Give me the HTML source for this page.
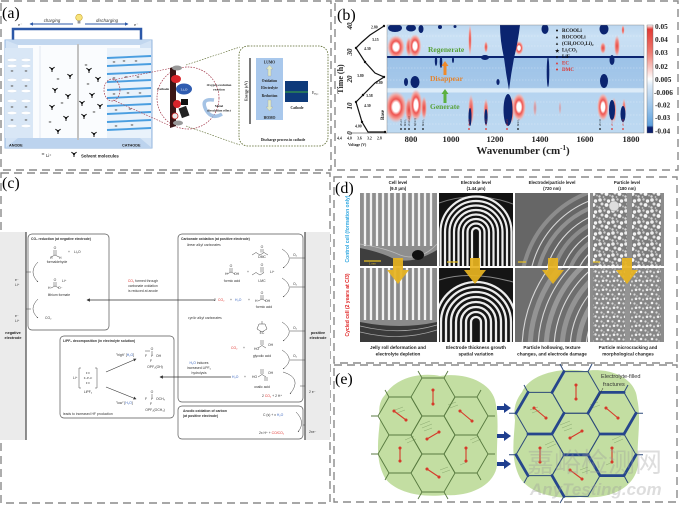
<!DOCTYPE html>
<html><head><meta charset="utf-8">
<style>
html,body{margin:0;padding:0;background:#fff;width:680px;height:505px;overflow:hidden;}
svg{display:block;}
</style></head><body>
<svg width="680" height="505" viewBox="0 0 680 505" xmlns="http://www.w3.org/2000/svg" font-family="Liberation Sans, sans-serif">
<defs>
<marker id="ah" viewBox="0 0 6 6" refX="5" refY="3" markerWidth="5" markerHeight="5" orient="auto"><path d="M0,0 L6,3 L0,6 Z" fill="#333"/></marker>
<marker id="ahs" viewBox="0 0 6 6" refX="5" refY="3" markerWidth="3" markerHeight="3" orient="auto"><path d="M0,0 L6,3 L0,6 Z" fill="#444"/></marker>
<marker id="ahb" viewBox="0 0 6 6" refX="5" refY="3" markerWidth="4" markerHeight="4" orient="auto"><path d="M0,0 L6,3 L0,6 Z" fill="#2c58a8"/></marker>
<radialGradient id="rw"><stop offset="0" stop-color="#fff"/><stop offset="0.3" stop-color="#fff"/><stop offset="0.5" stop-color="#ef5450"/><stop offset="0.75" stop-color="#f3a09a"/><stop offset="1" stop-color="#f5c0bc" stop-opacity="0"/></radialGradient>
<radialGradient id="rr"><stop offset="0" stop-color="#e6433e"/><stop offset="0.6" stop-color="#f0908a"/><stop offset="1" stop-color="#f5c0bc" stop-opacity="0"/></radialGradient>
<linearGradient id="hmbg" x1="0" y1="0" x2="0" y2="1">
<stop offset="0" stop-color="#bcd7f0"/><stop offset="0.1" stop-color="#c9e0f4"/><stop offset="0.29" stop-color="#c3dbf2"/>
<stop offset="0.3" stop-color="#9cc2e8"/><stop offset="0.58" stop-color="#a7c9ea"/><stop offset="0.59" stop-color="#dcebf8"/>
<stop offset="0.62" stop-color="#dcebf8"/><stop offset="0.63" stop-color="#b6d4f0"/><stop offset="1" stop-color="#bdd9f1"/></linearGradient>
<linearGradient id="cb" x1="0" y1="0" x2="0" y2="1">
<stop offset="0" stop-color="#fff"/><stop offset="0.04" stop-color="#e23a34"/><stop offset="0.25" stop-color="#ee7a70"/>
<stop offset="0.42" stop-color="#fad4d0"/><stop offset="0.5" stop-color="#fff"/><stop offset="0.56" stop-color="#dbe9f7"/>
<stop offset="0.8" stop-color="#8dbde8"/><stop offset="0.93" stop-color="#5d9fdc"/><stop offset="0.95" stop-color="#0a1f6e"/><stop offset="1" stop-color="#0a1f6e"/></linearGradient>
<pattern id="spk" width="13" height="11" patternUnits="userSpaceOnUse">
<rect width="13" height="11" fill="#7c7c7c"/>
<circle cx="2" cy="2" r="1.8" fill="#ececec"/><circle cx="6.5" cy="1.5" r="1.2" fill="#cfcfcf"/><circle cx="10.5" cy="3" r="1.7" fill="#f2f2f2"/>
<circle cx="4" cy="6" r="1.5" fill="#e0e0e0"/><circle cx="8.5" cy="7" r="1.9" fill="#f5f5f5"/><circle cx="12" cy="8.5" r="1" fill="#bbb"/>
<circle cx="1.5" cy="9.5" r="1.2" fill="#d8d8d8"/><circle cx="5.5" cy="10" r="0.9" fill="#c8c8c8"/></pattern>
<pattern id="spk2" width="11" height="9" patternUnits="userSpaceOnUse">
<rect width="11" height="9" fill="#878787"/>
<circle cx="1.5" cy="1.5" r="1.2" fill="#e6e6e6"/><circle cx="5" cy="2.5" r="1.1" fill="#d2d2d2"/><circle cx="9" cy="1.8" r="1.3" fill="#eee"/>
<circle cx="3" cy="6" r="1.3" fill="#f0f0f0"/><circle cx="7.5" cy="6.5" r="1.1" fill="#dadada"/><circle cx="10" cy="8" r="0.8" fill="#c4c4c4"/></pattern>
<clipPath id="hm"><rect x="387" y="25" width="257" height="108"/></clipPath>
<clipPath id="d11"><rect x="360" y="193" width="77" height="73"/></clipPath>
<clipPath id="d12"><rect x="439" y="193" width="74" height="73"/></clipPath>
<clipPath id="d13"><rect x="515" y="193" width="73" height="73"/></clipPath>
<clipPath id="d21"><rect x="360" y="268" width="77" height="74"/></clipPath>
<clipPath id="d22"><rect x="439" y="268" width="74" height="74"/></clipPath>
<clipPath id="d23"><rect x="515" y="268" width="73" height="74"/></clipPath>
<g id="sm"><line x1="0" y1="0" x2="-2.6" y2="-1.8" stroke="#111" stroke-width="1"/><line x1="0" y1="0" x2="2.6" y2="-1.8" stroke="#111" stroke-width="1"/><line x1="0" y1="0" x2="0" y2="3" stroke="#111" stroke-width="1"/><circle r="1.1" fill="#111"/></g>
<g id="li"><ellipse rx="1.4" ry="0.7" fill="#777"/></g>
</defs>
<rect width="680" height="505" fill="#fff"/>

<!-- ============ PANEL BORDERS ============ -->
<g fill="none" stroke="#8a8a8a" stroke-width="1.4" stroke-dasharray="8 5">
<rect x="1" y="1" width="330" height="169"/>
<rect x="335" y="1" width="343" height="169"/>
<rect x="1" y="173" width="329" height="330"/>
<rect x="334" y="177" width="343" height="186"/>
<rect x="334" y="365" width="343" height="137"/>
</g>

<!-- ============ PANEL A ============ -->
<text x="2" y="18" font-family="Liberation Serif, serif" font-size="16">(a)</text>
<path d="M13,46 V29 H141 V46" fill="none" stroke="#2c58a8" stroke-width="2.5"/>
<line x1="73" y1="24" x2="30" y2="24" stroke="#2c58a8" stroke-width="0.9" marker-end="url(#ahb)"/>
<line x1="85" y1="24" x2="128" y2="24" stroke="#2c58a8" stroke-width="0.9" marker-end="url(#ahb)"/>
<text x="52" y="22" font-size="4.3" font-style="italic" text-anchor="middle" fill="#333">charging</text>
<text x="107" y="22" font-size="4.3" font-style="italic" text-anchor="middle" fill="#333">discharging</text>
<text x="18" y="26" font-size="4" fill="#333">e⁻</text>
<text x="134" y="26" font-size="4" fill="#333">e⁻</text>
<circle cx="79" cy="17.5" r="3.3" fill="#f8e47c" stroke="#caa530" stroke-width="0.6"/>
<rect x="77.6" y="20.5" width="2.8" height="3" fill="#999"/>
<!-- box -->
<rect x="5" y="40" width="147" height="108" fill="#d3e3f5" stroke="#93b5de" stroke-width="1"/>
<polygon points="18,45 140,45 140,138 18,138" fill="#fafcfe"/>
<polygon points="5,148 152,148 140,138 18,138" fill="#bcd3ee"/>
<polygon points="5,40 152,40 140,45 18,45" fill="#c2d7ef"/>
<!-- anode -->
<rect x="5" y="48" width="28" height="90" fill="#d9e7f6"/>
<g fill="#fff" stroke="#c3d3e7" stroke-width="0.3">
<ellipse cx="12" cy="60" rx="5" ry="1.6"/><ellipse cx="26" cy="60" rx="5" ry="1.6"/>
<ellipse cx="12" cy="66" rx="5" ry="1.6"/><ellipse cx="26" cy="66" rx="5" ry="1.6"/>
<ellipse cx="12" cy="80" rx="5" ry="1.6"/><ellipse cx="26" cy="80" rx="5" ry="1.6"/>
<ellipse cx="12" cy="91" rx="5" ry="1.6"/><ellipse cx="26" cy="91" rx="5" ry="1.6"/>
<ellipse cx="12" cy="101" rx="5" ry="1.6"/><ellipse cx="26" cy="101" rx="5" ry="1.6"/>
<ellipse cx="12" cy="113" rx="5" ry="1.6"/><ellipse cx="26" cy="113" rx="5" ry="1.6"/>
<ellipse cx="12" cy="126" rx="5" ry="1.6"/><ellipse cx="26" cy="126" rx="5" ry="1.6"/>
</g>
<g><use href="#li" x="12" y="71"/><use href="#li" x="26" y="71"/><use href="#li" x="12" y="86"/><use href="#li" x="26" y="86"/><use href="#li" x="12" y="107"/><use href="#li" x="26" y="107"/><use href="#li" x="12" y="120"/><use href="#li" x="26" y="120"/></g>
<line x1="40" y1="46" x2="40" y2="138" stroke="#e3e9f1" stroke-width="1"/>
<line x1="78" y1="44" x2="78" y2="140" stroke="#c2c2c2" stroke-width="2"/>
<!-- cathode -->
<rect x="107" y="48" width="44" height="90" fill="#e9f2fb"/>
<g stroke="#4a9ee0" stroke-width="1.9">
<line x1="107" y1="58" x2="151" y2="56"/><line x1="107" y1="66" x2="151" y2="64"/><line x1="107" y1="74" x2="151" y2="72"/>
<line x1="107" y1="82" x2="151" y2="80"/><line x1="107" y1="90" x2="151" y2="88"/><line x1="107" y1="98" x2="151" y2="96"/>
<line x1="107" y1="106" x2="151" y2="104"/><line x1="107" y1="114" x2="151" y2="112"/><line x1="107" y1="122" x2="151" y2="120"/>
<line x1="107" y1="130" x2="151" y2="128"/>
</g>
<g><use href="#li" x="114" y="62"/><use href="#li" x="124" y="61"/><use href="#li" x="136" y="61"/><use href="#li" x="114" y="78"/><use href="#li" x="126" y="77"/><use href="#li" x="138" y="77"/><use href="#li" x="114" y="94"/><use href="#li" x="128" y="93"/><use href="#li" x="140" y="93"/><use href="#li" x="116" y="110"/><use href="#li" x="130" y="109"/><use href="#li" x="116" y="126"/><use href="#li" x="132" y="125"/>
<use href="#li" x="58" y="79"/><use href="#li" x="88" y="84"/><use href="#li" x="62" y="103"/><use href="#li" x="94" y="112"/><use href="#li" x="86" y="65"/><use href="#li" x="50" y="122"/></g>
<g><use href="#sm" x="52" y="69"/><use href="#sm" x="70" y="76"/><use href="#sm" x="55" y="90"/><use href="#sm" x="68" y="96"/><use href="#sm" x="52" y="107"/><use href="#sm" x="66" y="118"/><use href="#sm" x="58" y="131"/><use href="#sm" x="89" y="70"/><use href="#sm" x="98" y="79"/><use href="#sm" x="92" y="95"/><use href="#sm" x="100" y="106"/><use href="#sm" x="84" y="116"/><use href="#sm" x="94" y="134"/><use href="#sm" x="82" y="103"/></g>
<text x="9" y="146.5" font-size="3.8" font-weight="bold" fill="#222">ANODE</text>
<text x="122" y="146.5" font-size="3.8" font-weight="bold" fill="#222">CATHODE</text>
<use href="#li" x="43" y="154"/>
<text x="46" y="157" font-size="4.2" fill="#222">Li⁺</text>
<use href="#sm" x="74" y="154"/>
<text x="81" y="157.5" font-size="4.3" font-weight="bold" fill="#222">Solvent molecules</text>
<!-- zoom circles -->
<ellipse cx="112" cy="90" rx="8" ry="11" fill="none" stroke="#a03345" stroke-width="0.7" stroke-dasharray="1.6 1.2"/>
<line x1="113" y1="80" x2="172" y2="68" stroke="#a03345" stroke-width="0.6" stroke-dasharray="1.6 1.2"/>
<line x1="113" y1="100" x2="173" y2="127" stroke="#a03345" stroke-width="0.6" stroke-dasharray="1.6 1.2"/>
<circle cx="188" cy="98" r="31" fill="#fff" stroke="#a03345" stroke-width="0.7" stroke-dasharray="1.6 1.2"/>
<line x1="186" y1="65" x2="240" y2="47" stroke="#5b6a2e" stroke-width="0.6" stroke-dasharray="1.6 1.2"/>
<line x1="186" y1="126" x2="240" y2="145" stroke="#5b6a2e" stroke-width="0.6" stroke-dasharray="1.6 1.2"/>
<polygon points="170,68 176,66 176,126 170,128" fill="#3a1616"/>
<ellipse cx="177" cy="68" rx="5" ry="2.5" fill="#999"/>
<ellipse cx="178" cy="123" rx="5" ry="2.5" fill="#999"/>
<ellipse cx="176" cy="79" rx="5" ry="4" fill="#d8242a"/>
<ellipse cx="184" cy="89" rx="8" ry="5.5" fill="#2f5cb0"/>
<text x="184" y="90.5" font-size="3.5" fill="#fff" text-anchor="middle" font-family="Liberation Serif, serif">Li₂O</text>
<ellipse cx="177" cy="104" rx="4" ry="4" fill="#d8242a"/>
<rect x="181" y="99" width="7" height="6" fill="#111"/>
<rect x="180" y="107" width="8" height="10" fill="#222" transform="rotate(-20 184 112)"/>
<ellipse cx="175" cy="116" rx="3" ry="3" fill="#e8e8e8" stroke="#c22" stroke-width="0.8"/>
<text x="157" y="90" font-size="3.3" font-weight="bold" font-family="Liberation Serif, serif" fill="#222">Cathode</text>
<path d="M214,100 Q200,98 206,110 Q212,120 222,114" fill="none" stroke="#8fb4de" stroke-width="3.5" opacity="0.8"/>
<text x="219" y="86" font-size="3.3" font-weight="bold" font-family="Liberation Serif, serif" fill="#222" text-anchor="middle">Oxygen evolution</text>
<text x="219" y="90.5" font-size="3.3" font-weight="bold" font-family="Liberation Serif, serif" fill="#222" text-anchor="middle">reaction</text>
<text x="219" y="107" font-size="3.3" font-weight="bold" font-family="Liberation Serif, serif" fill="#222" text-anchor="middle">Metal</text>
<text x="219" y="111.5" font-size="3.3" font-weight="bold" font-family="Liberation Serif, serif" fill="#222" text-anchor="middle">dissolution effect</text>
<!-- energy box -->
<rect x="239" y="46" width="89" height="100" rx="9" fill="#fff" stroke="#5b6a2e" stroke-width="0.8" stroke-dasharray="1.6 1.2"/>
<line x1="250" y1="58" x2="250" y2="124" stroke="#222" stroke-width="1.2"/>
<text transform="translate(247.5 91) rotate(-90)" font-size="3.8" font-weight="bold" font-family="Liberation Serif, serif" text-anchor="middle" fill="#222">Energy (eV)</text>
<rect x="256" y="58" width="27" height="62" fill="#a9c8ec"/>
<g font-family="Liberation Serif, serif" font-size="3.6" font-weight="bold" fill="#222" text-anchor="middle">
<text x="269.5" y="63.5">LUMO</text>
<text x="269.5" y="82">Oxidation</text>
<text x="269.5" y="89">Electrolyte</text>
<text x="269.5" y="97">Reduction</text>
<text x="269.5" y="119">HOMO</text>
<text x="297" y="109">Cathode</text>
<text x="283" y="141">Discharge process in cathode</text>
</g>
<polygon points="269.5,65 273,69 271,69 271,76 268,76 268,69 266,69" fill="#dfe9c8" stroke="#999" stroke-width="0.3"/>
<polygon points="269.5,111 273,107 271,107 271,100 268,100 268,107 266,107" fill="#dfe9c8" stroke="#999" stroke-width="0.3"/>
<rect x="285" y="81" width="23" height="21" fill="#0e3a7a"/>
<line x1="285" y1="92" x2="308" y2="92" stroke="#3fae3f" stroke-width="1"/>
<text x="312" y="94" font-size="4" font-family="Liberation Serif, serif" fill="#222">E<tspan font-size="2.8" dy="1">F,C</tspan></text>

<!-- ============ PANEL B ============ -->
<text x="337" y="20" font-family="Liberation Serif, serif" font-size="16">(b)</text>
<g clip-path="url(#hm)">
<rect x="387" y="25" width="257" height="108" fill="url(#hmbg)"/>
<g stroke="#fff" stroke-opacity="0.6" stroke-width="0.4" stroke-dasharray="1.5 1.5">
<line x1="387" y1="36" x2="644" y2="36"/><line x1="387" y1="46" x2="644" y2="46"/><line x1="387" y1="68" x2="644" y2="68"/><line x1="387" y1="80" x2="644" y2="80"/><line x1="387" y1="102" x2="644" y2="102"/><line x1="387" y1="115" x2="644" y2="115"/><line x1="387" y1="124" x2="644" y2="124"/></g>
<!-- red -->
<ellipse cx="396" cy="47" rx="9" ry="12" fill="url(#rw)"/>
<ellipse cx="409" cy="47" rx="3.5" ry="10" fill="url(#rr)"/>
<ellipse cx="415" cy="46" rx="6.5" ry="12" fill="url(#rw)"/>
<ellipse cx="470" cy="40" rx="1.8" ry="16" fill="url(#rr)"/>
<ellipse cx="486" cy="47" rx="2" ry="6" fill="url(#rr)"/>
<ellipse cx="519" cy="48" rx="4.5" ry="7" fill="url(#rw)"/>
<ellipse cx="603" cy="48" rx="3" ry="6" fill="url(#rr)"/>
<ellipse cx="617" cy="46" rx="3" ry="11" fill="url(#rr)"/>
<ellipse cx="623" cy="30" rx="1.6" ry="5" fill="url(#rr)"/>
<ellipse cx="396" cy="107" rx="11" ry="16" fill="url(#rw)"/>
<ellipse cx="409" cy="110" rx="4" ry="13" fill="url(#rr)"/>
<ellipse cx="416" cy="105" rx="6.5" ry="16" fill="url(#rw)"/>
<ellipse cx="424" cy="108" rx="3" ry="12" fill="url(#rr)"/>
<ellipse cx="471" cy="110" rx="3" ry="16" fill="url(#rr)"/>
<ellipse cx="486" cy="111" rx="2.6" ry="13" fill="url(#rr)"/>
<ellipse cx="512" cy="110" rx="2" ry="14" fill="url(#rr)"/>
<ellipse cx="519" cy="107" rx="7" ry="14" fill="url(#rw)"/>
<ellipse cx="535" cy="108" rx="2" ry="9" fill="url(#rr)" opacity="0.5"/>
<ellipse cx="560" cy="108" rx="1.5" ry="7" fill="url(#rr)" opacity="0.4"/>
<ellipse cx="603" cy="107" rx="6" ry="14" fill="url(#rw)"/>
<ellipse cx="614" cy="110" rx="2.5" ry="13" fill="url(#rr)"/>
<ellipse cx="624" cy="110" rx="2" ry="12" fill="url(#rr)"/>
<!-- dark blue -->
<g fill="#0b2470">
<rect x="387" y="56" width="257" height="2"/>
<ellipse cx="395" cy="28" rx="7" ry="4"/><ellipse cx="411" cy="28" rx="5" ry="3.5"/><ellipse cx="421" cy="29" rx="2.5" ry="4"/>
<ellipse cx="440" cy="27" rx="2" ry="2"/><ellipse cx="455" cy="26.5" rx="1.5" ry="1.5"/>
<path d="M500,25 L520,25 Q518,42 514,58 Q511,74 509,90 Q506,74 504,58 Q500,40 500,25 Z"/>
<ellipse cx="545" cy="29" rx="3.5" ry="5"/>
<ellipse cx="604" cy="29" rx="4.5" ry="5.5"/>
<ellipse cx="436" cy="61" rx="1.2" ry="5"/><ellipse cx="441" cy="62" rx="1.3" ry="6"/><ellipse cx="453" cy="60" rx="1" ry="3"/>
<ellipse cx="485" cy="57.5" rx="4" ry="2.5"/>
<ellipse cx="548" cy="72" rx="1.3" ry="15"/>
<ellipse cx="612" cy="60" rx="2.5" ry="5"/>
<ellipse cx="406" cy="82" rx="2" ry="4"/><ellipse cx="415" cy="82" rx="4.5" ry="6"/>
<ellipse cx="498" cy="82" rx="1.6" ry="3"/>
<ellipse cx="604" cy="81" rx="4" ry="7"/>
<ellipse cx="508" cy="110" rx="4.5" ry="16"/>
<ellipse cx="470" cy="117" rx="1.5" ry="9"/>
<ellipse cx="486" cy="117" rx="1.6" ry="8"/>
<ellipse cx="612" cy="110" rx="3" ry="10"/>
<ellipse cx="623" cy="114" rx="2.5" ry="8"/>
</g>
<!-- bottom markers -->
<g fill="#111"><circle cx="401" cy="129" r="0.9"/><circle cx="405" cy="129" r="0.9"/><circle cx="409" cy="129" r="0.9"/><circle cx="415" cy="129" r="0.9"/><circle cx="423" cy="129" r="0.9"/><circle cx="518" cy="129" r="0.9"/><circle cx="600" cy="129" r="0.9"/></g>
<g fill="#e0302a"><circle cx="469" cy="129" r="0.9"/><circle cx="486" cy="129" r="0.9"/><circle cx="507" cy="129" r="0.9"/><circle cx="612" cy="129" r="0.9"/><circle cx="623" cy="129" r="0.9"/></g>
<g font-size="3" font-family="Liberation Serif, serif">
<text transform="translate(402 126) rotate(-90)">νC-O</text><text transform="translate(406 126) rotate(-90)">δCO₃</text><text transform="translate(410 126) rotate(-90)">νO-C-O</text><text transform="translate(416 126) rotate(-90)">δ(CO)</text><text transform="translate(424 126) rotate(-90)">δCO₃</text>
<text transform="translate(470 126) rotate(-90)" fill="#e0302a">νC-O</text><text transform="translate(487 126) rotate(-90)" fill="#e0302a">νC-O</text><text transform="translate(508 126) rotate(-90)" fill="#e0302a">νC-O</text><text transform="translate(519 126) rotate(-90)">δCO₃</text><text transform="translate(601 126) rotate(-90)">νC=O</text><text transform="translate(613 126) rotate(-90)" fill="#e0302a">νC=O</text><text transform="translate(624 126) rotate(-90)" fill="#e0302a">νC=O</text>
</g>
</g>
<rect x="387" y="25" width="257" height="108" fill="none" stroke="#777" stroke-width="0.4"/>
<text transform="translate(384 115) rotate(-90)" font-size="5" font-weight="bold" font-family="Liberation Serif, serif" text-anchor="middle" fill="#222">Base</text>
<!-- annotations -->
<g font-family="Liberation Serif, serif" font-weight="bold" font-size="7.5">
<text x="428" y="52" fill="#58a23a">Regenerate</text>
<text x="430" y="81" fill="#e2832e">Disappear</text>
<text x="430" y="109" fill="#58a23a">Generate</text>
</g>
<polygon points="445,61 448.5,66 446.5,66 446.5,75 443.5,75 443.5,66 441.5,66" fill="#f08a2a"/>
<polygon points="445,89 448.5,94 446.5,94 446.5,103 443.5,103 443.5,94 441.5,94" fill="#5bb040"/>
<!-- legend -->
<g font-family="Liberation Serif, serif" font-weight="bold" font-size="5" fill="#111">
<circle cx="557" cy="30.5" r="1"/><text x="562" y="32">RCOOLi</text>
<polygon points="557,36 558.2,38.2 555.8,38.2"/><text x="562" y="38.5">ROCOOLi</text>
<polygon points="557,42.5 558.2,44.7 555.8,44.7"/><text x="562" y="45">(CH₂OCO₂Li)₂</text>
<text x="555" y="52.5" font-size="5">★</text><text x="562" y="51.5">Li₂CO₃</text>
<polygon points="557,58.5 558.2,56.3 555.8,56.3"/><text x="562" y="58">LiF</text>
<polygon points="557,62 558.2,64.2 555.8,64.2" fill="#e0302a"/><text x="562" y="64.5" fill="#e0302a">EC</text>
<circle cx="557" cy="69.5" r="1" fill="#e0302a"/><text x="562" y="71" fill="#e0302a">DMC</text>
</g>
<!-- colorbar -->
<rect x="647" y="25" width="6" height="108" fill="url(#cb)" stroke="#666" stroke-width="0.4"/>
<g font-family="Liberation Serif, serif" font-weight="bold" font-size="7.3" fill="#222">
<text x="655" y="29">0.05</text><text x="655" y="42">0.04</text><text x="655" y="55">0.03</text><text x="655" y="69">0.02</text><text x="655" y="82">0.005</text><text x="654" y="95">-0.006</text><text x="655" y="107.5">-0.02</text><text x="655" y="120">-0.03</text><text x="655" y="133.5">-0.04</text>
</g>
<!-- x ticks -->
<g font-family="Liberation Serif, serif" font-weight="bold" font-size="8.5" fill="#222" text-anchor="middle">
<text x="411" y="142">800</text><text x="451" y="142">1000</text><text x="495" y="142">1200</text><text x="540" y="142">1400</text><text x="585" y="142">1600</text><text x="631" y="142">1800</text>
</g>
<text x="523" y="154" font-family="Liberation Serif, serif" font-weight="bold" font-size="11" text-anchor="middle" fill="#222">Wavenumber (cm<tspan font-size="7" dy="-4">-1</tspan><tspan dy="4">)</tspan></text>
<!-- voltage panel -->
<line x1="352" y1="133" x2="387" y2="133" stroke="#222" stroke-width="0.6"/>
<polyline points="385,132 368,132 362,122 356,102 363,95 375,83 384,77 375,73 365,62 356,48 362,42 370,35 384,26" fill="none" stroke="#111" stroke-width="1.2"/>
<g fill="#111"><circle cx="385" cy="132" r="1.2"/><circle cx="362" cy="122" r="1.2"/><circle cx="356" cy="102" r="1.2"/><circle cx="363" cy="95" r="1.2"/><circle cx="384" cy="77" r="1.2"/><circle cx="365" cy="62" r="1.2"/><circle cx="356" cy="48" r="1.2"/><circle cx="384" cy="26" r="1.2"/></g>
<g font-family="Liberation Serif, serif" font-weight="bold" font-size="3.8" fill="#222">
<text x="371" y="28.5">2.80</text><text x="372" y="41">3.15</text><text x="364" y="50">4.30</text><text x="357" y="77">3.80</text><text x="376" y="84">2.80</text><text x="366" y="97">3.58</text><text x="364" y="107">4.30</text><text x="355" y="127.5">4.00</text>
<text x="337" y="139.5">4.4</text><text x="347" y="139.5">4.0</text><text x="357" y="139.5">3.6</text><text x="367" y="139.5">3.2</text><text x="377" y="139.5">2.8</text>
<text x="348" y="146">Voltage (V)</text>
</g>
<g font-family="Liberation Serif, serif" font-weight="bold" font-style="italic" font-size="7" fill="#222" text-anchor="middle">
<text transform="translate(352 133) rotate(-90)">0</text><text transform="translate(352 106) rotate(-90)">10</text><text transform="translate(352 79) rotate(-90)">20</text><text transform="translate(352 52) rotate(-90)">30</text><text transform="translate(352 26) rotate(-90)">40</text>
</g>
<text transform="translate(343 79) rotate(-90)" font-family="Liberation Serif, serif" font-weight="bold" font-size="8" text-anchor="middle" fill="#222">Time (h)</text>

<!-- ============ PANEL C ============ -->
<text x="2" y="188" font-family="Liberation Serif, serif" font-size="16">(c)</text>
<rect x="0" y="232" width="26" height="208" fill="#ebebeb"/>
<line x1="26" y1="232" x2="26" y2="440" stroke="#555" stroke-width="1.3"/>
<rect x="305" y="232" width="25" height="208" fill="#ebebeb"/>
<line x1="305" y1="232" x2="305" y2="440" stroke="#555" stroke-width="1.3"/>
<g font-size="3.8" font-weight="bold" fill="#222" text-anchor="middle">
<text x="13" y="334">negative</text><text x="13" y="339">electrode</text>
<text x="318" y="334">positive</text><text x="318" y="339">electrode</text>
</g>
<g fill="#fff" stroke="#555" stroke-width="0.7">
<rect x="28" y="234" width="81" height="96" rx="4"/>
<rect x="178" y="234" width="125" height="168" rx="4"/>
<rect x="60" y="336" width="114" height="82" rx="4"/>
<rect x="178" y="406" width="125" height="33" rx="4"/>
</g>
<g font-size="3.4" fill="#333">
<text x="31" y="240" font-weight="bold">CO₂ reduction (at negative electrode)</text>
<text x="55" y="249" text-anchor="middle">O</text>
<text x="50" y="259">H</text><text x="59" y="259">H</text>
<text x="68" y="253">+</text><text x="74" y="253">Li₂O</text>
<text x="57" y="263" text-anchor="middle">formaldehyde</text>
<text x="55" y="281" text-anchor="middle">O</text><text x="62" y="282">Li⁺</text>
<text x="48" y="289">H</text><text x="58" y="289">O⁻</text>
<text x="59" y="296" text-anchor="middle">lithium formate</text>
<text x="45" y="319">CO₂</text>
<text x="15" y="281">e⁻</text><text x="15" y="286">Li⁺</text>
<text x="15" y="317">e⁻</text><text x="15" y="322">Li⁺</text>
<text x="181" y="240" font-weight="bold">Carbonate oxidation (at positive electrode)</text>
<text x="187" y="246" font-style="italic">linear alkyl carbonates</text>
<text x="262" y="248" text-anchor="middle">O</text>
<text x="262" y="258" text-anchor="middle">DMC</text>
<text x="231" y="267" text-anchor="middle">O</text>
<text x="225" y="275">H</text><text x="234" y="275">OH</text>
<text x="232" y="282" text-anchor="middle">formic acid</text>
<text x="247" y="273">+</text>
<text x="262" y="266" text-anchor="middle">O</text><text x="270" y="273">Li⁺</text>
<text x="262" y="282" text-anchor="middle">LMC</text>
<text x="214" y="301">2</text><text x="218" y="301" fill="#e0302a">CO₂</text><text x="230" y="301">+</text><text x="235" y="301" fill="#3a66c0">H₂O</text><text x="248" y="301">+</text>
<text x="262" y="294" text-anchor="middle">O</text><text x="255" y="302">H</text><text x="265" y="302">OH</text>
<text x="264" y="308" text-anchor="middle">formic acid</text>
<text x="188" y="319" font-style="italic">cyclic alkyl carbonates</text>
<text x="262" y="334" text-anchor="middle">EC</text>
<text x="231" y="349" fill="#e0302a">CO₂</text><text x="243" y="349">+</text>
<text x="254" y="350">HO</text><text x="268" y="346">OH</text>
<text x="262" y="357" text-anchor="middle">glycolic acid</text>
<text x="232" y="378" fill="#3a66c0">H₂O</text><text x="244" y="378">+</text>
<text x="252" y="378">HO</text><text x="268" y="374">OH</text>
<text x="262" y="388" text-anchor="middle">oxalic acid</text>
<text x="262" y="397">2 <tspan fill="#e0302a">CO₂</tspan> + 2 H⁺</text>
<text x="309" y="393">2 e⁻</text>
<text x="293" y="256">O₂</text><text x="293" y="285">O₂</text><text x="293" y="329">O₂</text><text x="293" y="357">O₂</text>
<text x="143" y="282" text-anchor="middle"><tspan fill="#e0302a">CO₂</tspan> formed through</text>
<text x="143" y="287" text-anchor="middle">carbonate oxidation</text>
<text x="143" y="292" text-anchor="middle">is reduced at anode</text>
<text x="199" y="364" text-anchor="middle"><tspan fill="#3a66c0">H₂O</tspan> induces</text>
<text x="199" y="369" text-anchor="middle">increased LiPF₆</text>
<text x="199" y="374" text-anchor="middle">hydrolysis</text>
<text x="63" y="342" font-weight="bold">LiPF₆ decomposition (in electrolyte solution)</text>
<text x="73" y="379">Li⁺</text>
<text x="88" y="374" text-anchor="middle" font-size="2.8">F  F</text>
<text x="88" y="379" text-anchor="middle" font-size="2.8">F–P–F</text>
<text x="88" y="384" text-anchor="middle" font-size="2.8">F  F</text>
<text x="88" y="393" text-anchor="middle">LiPF₆</text>
<text x="116" y="356">"high" [<tspan fill="#3a66c0">H₂O</tspan>]</text>
<text x="116" y="404">"low" [<tspan fill="#3a66c0">H₂O</tspan>]</text>
<text x="152" y="350" text-anchor="middle">O</text><text x="145" y="357">F</text><text x="151" y="357">P</text><text x="156" y="357">OH</text><text x="150" y="362">F</text>
<text x="155" y="368" text-anchor="middle">OPF₂(OH)</text>
<text x="152" y="393" text-anchor="middle">O</text><text x="145" y="400">F</text><text x="151" y="400">P</text><text x="156" y="400">OCH₃</text><text x="150" y="405">F</text>
<text x="155" y="411" text-anchor="middle">OPF₂(OCH₃)</text>
<text x="63" y="415">leads to increased HF production</text>
<text x="183" y="412" font-weight="bold">Anodic oxidation of carbon</text>
<text x="183" y="417" font-weight="bold">(at positive electrode)</text>
<text x="263" y="416">C (s) + x <tspan fill="#3a66c0">H₂O</tspan></text>
<text x="259" y="434">2x H⁺ + <tspan fill="#e0302a">CO/CO₂</tspan></text>
<text x="309" y="433">2xe⁻</text>
</g>
<g fill="none" stroke="#444" stroke-width="0.5">
<path d="M54,250 V255 M56,250 V255 M55,255 L51,257 M55,255 L59,257"/>
<path d="M54,282 V286 M56,282 V286 M55,286 L51,288 M55,286 L59,288"/>
<path d="M38,262 Q28,272 38,282" marker-end="url(#ahs)"/>
<path d="M38,299 Q28,309 38,318" marker-end="url(#ahs)"/>
<path d="M31,272 H26 M31,309 H26"/>
<path d="M252,255 l4,-2.5 l4,2.5 l4,-2.5 l4,2.5 M261,249 V252.5 M263,249 V252.5"/>
<path d="M230,268 V272 M232,268 V272 M231,272 L227,274 M231,272 L235,274"/>
<path d="M252,275 l4,-2.5 l4,2.5 l4,-2.5 M261,267 V272.5 M263,267 V272.5"/>
<path d="M261,295 V299 M263,295 V299 M262,299 L258,301 M262,299 L266,301"/>
<path d="M257,329 L259,324 L265,324 L267,329 L262,332 Z M262,324 V321"/>
<path d="M258,348 l4,-2.5 l4,2.5 M261,340 V345 M263,340 V345"/>
<path d="M258,377 l4,-2.5 l4,2.5 M261,369 V374 M263,369 V374 M265,377 V381 M267,377 V381"/>
<path d="M282,249 Q296,258 283,268" marker-end="url(#ahs)"/>
<path d="M282,278 Q296,287 283,297" marker-end="url(#ahs)"/>
<path d="M282,322 Q296,331 283,341" marker-end="url(#ahs)"/>
<path d="M282,350 Q296,359 283,369" marker-end="url(#ahs)"/>
<path d="M305,258 H290 M305,287 H290 M305,331 H290 M305,360 H290"/>
<path d="M283,372 Q303,378 290,394" marker-end="url(#ahs)"/>
<path d="M300,386 H305"/>
<path d="M296,412 Q306,422 298,432" marker-end="url(#ahs)"/>
<path d="M303,425 H305"/>
<path d="M81,368 l-2,0 l0,20 l2,0 M95,368 l2,0 l0,20 l-2,0"/>
<path d="M145,351 l5,0 M152,351 V354"/>
<path d="M152,394 V397"/>
</g>
<line x1="215" y1="300" x2="87" y2="300" stroke="#333" stroke-width="0.7" marker-end="url(#ah)"/>
<line x1="231" y1="377" x2="160" y2="377" stroke="#333" stroke-width="0.7" marker-end="url(#ah)"/>
<line x1="106" y1="372" x2="136" y2="359" stroke="#333" stroke-width="0.6" marker-end="url(#ah)"/>
<line x1="106" y1="387" x2="136" y2="399" stroke="#333" stroke-width="0.6" marker-end="url(#ah)"/>

<!-- ============ PANEL D ============ -->
<text x="335" y="193" font-family="Liberation Serif, serif" font-size="16">(d)</text>
<g font-size="4.3" font-weight="bold" fill="#222" text-anchor="middle">
<text x="398" y="184">Cell level</text><text x="398" y="190">(9.0 μm)</text>
<text x="476" y="184">Electrode level</text><text x="476" y="190">(1.44 μm)</text>
<text x="552" y="184">Electrode/particle level</text><text x="552" y="190">(720 nm)</text>
<text x="627" y="184">Particle level</text><text x="627" y="190">(180 nm)</text>
</g>
<text transform="translate(349 229) rotate(-90)" font-size="5" font-weight="bold" fill="#2ba6e0" text-anchor="middle">Control cell (formation only)</text>
<text transform="translate(349 305) rotate(-90)" font-size="5" font-weight="bold" fill="#e02424" text-anchor="middle">Cycled cell (2 years at C/3)</text>
<!-- col1 -->
<g clip-path="url(#d11)">
<rect x="360" y="193" width="77" height="73" fill="#8e8e8e"/>
<g stroke="#f2f2f2" stroke-width="2.3"><line x1="365" y1="193" x2="365" y2="246"/><line x1="371" y1="193" x2="371" y2="246"/><line x1="377" y1="193" x2="377" y2="246"/><line x1="383" y1="193" x2="383" y2="246"/><line x1="389" y1="193" x2="389" y2="246"/><line x1="395" y1="193" x2="395" y2="246"/><line x1="401" y1="193" x2="401" y2="246"/><line x1="407" y1="193" x2="407" y2="246"/><line x1="413" y1="193" x2="413" y2="246"/><line x1="419" y1="193" x2="419" y2="246"/><line x1="425" y1="193" x2="425" y2="246"/><line x1="431" y1="193" x2="431" y2="246"/></g>
<path d="M360,248 Q380,252 392,258 Q410,266 437,250 L437,266 L360,266 Z" fill="#3e3e3e"/>
<path d="M360,244 Q385,248 400,255 Q420,262 437,244" fill="none" stroke="#bbb" stroke-width="0.8"/>
<ellipse cx="418" cy="255" rx="6" ry="5" fill="#111"/>
<line x1="364" y1="261" x2="381" y2="261" stroke="#e8c020" stroke-width="1.2"/>
<text x="369" y="264.5" font-size="2.8" fill="#e8c020">1 mm</text>
</g>
<g clip-path="url(#d21)">
<rect x="360" y="268" width="77" height="74" fill="#8a8a8a"/>
<g stroke="#f2f2f2" stroke-width="2.3"><line x1="365" y1="268" x2="365" y2="320"/><line x1="371" y1="268" x2="371" y2="320"/><line x1="377" y1="268" x2="377" y2="320"/><line x1="383" y1="268" x2="383" y2="320"/><line x1="389" y1="268" x2="389" y2="320"/><line x1="395" y1="268" x2="395" y2="320"/><line x1="401" y1="268" x2="401" y2="320"/><line x1="407" y1="268" x2="407" y2="320"/><line x1="413" y1="268" x2="413" y2="320"/><line x1="419" y1="268" x2="419" y2="320"/><line x1="425" y1="268" x2="425" y2="320"/><line x1="431" y1="268" x2="431" y2="320"/></g>
<path d="M360,322 Q400,330 437,322 L437,342 L360,342 Z" fill="#3a3a3a"/>
<path d="M360,326 Q400,336 437,325 M360,332 Q400,342 437,330" fill="none" stroke="#aaa" stroke-width="0.7"/>
</g>
<!-- col2 -->
<g clip-path="url(#d12)">
<rect x="439" y="193" width="74" height="73" fill="#121212"/>
<path d="M439,203 Q476,190 513,204" fill="none" stroke="#777" stroke-width="1"/>
<g fill="none" stroke="#ececec" stroke-width="2.2">
<path d="M472,266 V232 A4 4 0 0 1 480,232 V266"/>
<path d="M467.5,266 V232 A8.5 8.5 0 0 1 484.5,232 V266"/>
<path d="M463,266 V232 A13 13 0 0 1 489,232 V266"/>
<path d="M458.5,266 V232 A17.5 17.5 0 0 1 493.5,232 V266"/>
<path d="M454,266 V232 A22 22 0 0 1 498,232 V266"/>
<path d="M449.5,266 V232 A26.5 26.5 0 0 1 502.5,232 V266"/>
<path d="M445,266 V232 A31 31 0 0 1 507,232 V266"/>
<path d="M440.5,266 V232 A35.5 35.5 0 0 1 511.5,232 V266"/>
</g>
<line x1="447" y1="262" x2="458" y2="262" stroke="#e8c020" stroke-width="1.2"/>
</g>
<g clip-path="url(#d22)">
<rect x="439" y="268" width="74" height="74" fill="#151515"/>
<path d="M439,280 Q470,270 513,282" fill="none" stroke="#888" stroke-width="1"/>
<g fill="none" stroke="#ececec" stroke-width="2.3">
<path d="M471,342 V322 A5 5 0 0 1 481,322 V342"/>
<path d="M466,342 V322 A10 10 0 0 1 486,322 V342"/>
<path d="M461,342 V322 A15 15 0 0 1 491,322 V342"/>
<path d="M456,342 V322 A20 20 0 0 1 496,322 V342"/>
<path d="M451,342 V322 A25 25 0 0 1 501,322 V342"/>
<path d="M446,342 V322 A30 30 0 0 1 506,322 V342"/>
<path d="M441,342 V322 A35 35 0 0 1 511,322 V342"/>
<path d="M436,342 V322 A40 40 0 0 1 516,322 V342"/>
</g>
</g>
<!-- col3 -->
<g clip-path="url(#d13)">
<rect x="515" y="193" width="73" height="73" fill="#666"/>
<g fill="none">
<circle cx="625" cy="290" r="30" stroke="#909090" stroke-width="4"/><circle cx="625" cy="290" r="36" stroke="#d8d8d8" stroke-width="1.1"/>
<circle cx="625" cy="290" r="44" stroke="#8c8c8c" stroke-width="4"/><circle cx="625" cy="290" r="51" stroke="#dcdcdc" stroke-width="1.1"/>
<circle cx="625" cy="290" r="59" stroke="#909090" stroke-width="4"/><circle cx="625" cy="290" r="66" stroke="#d8d8d8" stroke-width="1.1"/>
<circle cx="625" cy="290" r="74" stroke="#8c8c8c" stroke-width="4"/><circle cx="625" cy="290" r="81" stroke="#dcdcdc" stroke-width="1.1"/>
<circle cx="625" cy="290" r="89" stroke="#909090" stroke-width="4"/><circle cx="625" cy="290" r="96" stroke="#d8d8d8" stroke-width="1.1"/>
<circle cx="625" cy="290" r="104" stroke="#8c8c8c" stroke-width="4"/>
</g>
<line x1="518" y1="262" x2="526" y2="262" stroke="#e8c020" stroke-width="1.2"/>
</g>
<g clip-path="url(#d23)">
<rect x="515" y="268" width="73" height="74" fill="#6e6e6e"/>
<g fill="none">
<circle cx="660" cy="350" r="50" stroke="#989898" stroke-width="5"/><circle cx="660" cy="350" r="58" stroke="#d8d8d8" stroke-width="1.1"/>
<circle cx="660" cy="350" r="66" stroke="#949494" stroke-width="5"/><circle cx="660" cy="350" r="74" stroke="#dcdcdc" stroke-width="1.1"/>
<circle cx="660" cy="350" r="82" stroke="#989898" stroke-width="5"/><circle cx="660" cy="350" r="90" stroke="#d8d8d8" stroke-width="1.1"/>
<circle cx="660" cy="350" r="98" stroke="#949494" stroke-width="5"/><circle cx="660" cy="350" r="106" stroke="#dcdcdc" stroke-width="1.1"/>
<circle cx="660" cy="350" r="114" stroke="#989898" stroke-width="5"/><circle cx="660" cy="350" r="122" stroke="#d8d8d8" stroke-width="1.1"/>
<circle cx="660" cy="350" r="130" stroke="#949494" stroke-width="5"/><circle cx="660" cy="350" r="138" stroke="#d8d8d8" stroke-width="1.1"/>
</g>
</g>
<!-- col4 -->
<rect x="590" y="193" width="74" height="73" fill="url(#spk)"/>
<rect x="590" y="193" width="3" height="73" fill="#8c8c8c"/>
<rect x="627" y="193" width="5" height="73" fill="#8e8e8e"/>
<rect x="661" y="193" width="3" height="73" fill="#8c8c8c"/>
<circle cx="614" cy="206" r="5" fill="#ddd" stroke="#999" stroke-width="0.5"/>
<line x1="593" y1="262" x2="600" y2="262" stroke="#e8c020" stroke-width="1.2"/>
<rect x="590" y="268" width="74" height="74" fill="url(#spk2)"/>
<rect x="590" y="268" width="3" height="74" fill="#8c8c8c"/>
<rect x="625" y="268" width="5" height="74" fill="#939393"/>
<rect x="661" y="268" width="3" height="74" fill="#8c8c8c"/>
<!-- yellow arrows -->
<g fill="#e8b420" opacity="0.92">
<polygon points="393,258 403,258 403,270 409,270 398,284 387,270 393,270"/>
<polygon points="470,258 480,258 480,270 486,270 475,284 464,270 470,270"/>
<polygon points="548,258 558,258 558,270 564,270 553,284 542,270 548,270"/>
<polygon points="622,258 632,258 632,270 638,270 627,284 616,270 622,270"/>
</g>
<g font-size="4.6" font-weight="bold" fill="#222" text-anchor="middle">
<text x="398" y="349">Jelly roll deformation and</text><text x="398" y="355.5">electrolyte depletion</text>
<text x="476" y="349">Electrode thickness growth</text><text x="476" y="355.5">spatial variation</text>
<text x="552" y="349">Particle hollowing, texture</text><text x="552" y="355.5">changes, and electrode damage</text>
<text x="628" y="349">Particle microcracking and</text><text x="628" y="355.5">morphological changes</text>
</g>

<!-- ============ PANEL E ============ -->
<text x="335" y="384" font-family="Liberation Serif, serif" font-size="16">(e)</text>
<path d="M385,395 C395,378 420,372 440,376 C465,372 490,382 495,400 C500,420 496,445 497,465 C495,485 470,497 445,495 C420,498 395,492 385,478 C375,460 378,440 380,420 C378,408 380,400 385,395 Z" fill="#c3dea2"/>
<path d="M522,392 C530,374 560,367 585,371 C610,367 635,378 637,398 C642,420 636,445 638,465 C635,488 610,500 580,497 C555,500 530,493 520,478 C510,458 514,440 515,420 C513,408 516,400 522,392 Z" fill="#c3dea2"/>
<g fill="none" stroke="#8aa86e" stroke-width="0.5">
<path d="M420,425 l10,-4 M422,428 l10,-4 M424,431 l8,-3 M405,440 l9,-4 M407,443 l9,-4 M448,405 l8,-3 M450,408 l8,-3 M470,440 l9,-4 M472,443 l9,-4 M395,410 l8,-3 M397,413 l8,-3 M440,470 l8,-3 M442,473 l8,-3 M460,465 l7,-3"/>
<path d="M560,425 l10,-4 M562,428 l10,-4 M564,431 l8,-3 M545,445 l9,-4 M547,448 l9,-4 M590,405 l8,-3 M592,408 l8,-3 M612,440 l9,-4 M614,443 l9,-4 M530,410 l8,-3 M532,413 l8,-3 M580,470 l8,-3 M582,473 l8,-3 M606,465 l7,-3"/>
</g>
<!-- left hexes -->
<g fill="none" stroke="#587a40" stroke-width="0.9">
<polygon points="455,435 444,454 422,454 411,435 422,416 444,416"/>
<polygon points="455,397 444,416 422,416 411,397 422,378 444,378"/>
<polygon points="455,473 444,492 422,492 411,473 422,454 444,454"/>
<polygon points="488,416 477,435 455,435 444,416 455,397 477,397"/>
<polygon points="488,454 477,473 455,473 444,454 455,435 477,435"/>
<polygon points="422,416 411,435 389,435 378,416 389,397 411,397"/>
<polygon points="422,454 411,473 389,473 378,454 389,435 411,435"/>
<path d="M378,416 H371 M378,454 H371 M488,416 H495 M488,454 H495 M422,378 L418,371 M444,378 L448,371 M389,397 L385,390 M477,397 L481,390 M389,473 L385,480 M477,473 L481,480 M422,492 L418,499 M444,492 L448,499"/>
</g>
<!-- right hexes -->
<g fill="none" stroke="#2d4a7a" stroke-width="1">
<polygon points="600,434 588,454.8 564,454.8 552,434 564,413.2 588,413.2"/>
<polygon points="600,392.4 588,413.2 564,413.2 552,392.4 564,371.6 588,371.6"/>
<polygon points="600,475.6 588,496.4 564,496.4 552,475.6 564,454.8 588,454.8"/>
<polygon points="636,413.2 624,434 600,434 588,413.2 600,392.4 624,392.4"/>
<polygon points="636,454.8 624,475.6 600,475.6 588,454.8 600,434 624,434"/>
<polygon points="564,413.2 552,434 528,434 516,413.2 528,392.4 552,392.4"/>
<polygon points="564,454.8 552,475.6 528,475.6 516,454.8 528,434 552,434"/>
<path d="M516,413.2 H509 M516,454.8 H509 M636,413.2 H643 M636,454.8 H643 M564,371.6 L560,364 M588,371.6 L592,364 M528,392.4 L524,385 M624,392.4 L628,385 M528,475.6 L524,483 M624,475.6 L628,483 M564,496.4 L560,503"/>
</g>
<g fill="none" stroke="#26468c" stroke-width="2.8" stroke-linecap="round">
<path d="M588,413.2 L600,392.4 L624,392.4"/>
<path d="M552,392.4 L564,371.6"/>
<path d="M564,413.2 L552,434 L528,434"/>
<path d="M516,454.8 L528,475.6"/>
<path d="M588,454.8 L600,475.6 L624,475.6 L636,454.8"/>
<path d="M600,434 L624,434"/>
<path d="M552,475.6 L564,496.4"/>
<path d="M516,413.2 L528,392.4"/>
<path d="M636,413.2 L624,434"/>
<path d="M564,454.8 L588,454.8"/>
</g>
<!-- red arrows -->
<g stroke="#d63a2a" stroke-width="1.1" fill="#d63a2a">
<line x1="433" y1="390" x2="433" y2="404"/><circle cx="433" cy="390" r="1"/><circle cx="433" cy="404" r="1"/>
<line x1="394" y1="411" x2="406" y2="420"/><circle cx="394" cy="411" r="1"/><circle cx="406" cy="420" r="1"/>
<line x1="460" y1="411" x2="472" y2="421"/><circle cx="460" cy="411" r="1"/><circle cx="472" cy="421" r="1"/>
<line x1="427" y1="439" x2="439" y2="432"/><circle cx="427" cy="439" r="1"/><circle cx="439" cy="432" r="1"/>
<line x1="400" y1="448" x2="400" y2="461"/><circle cx="400" cy="448" r="1"/><circle cx="400" cy="461" r="1"/>
<line x1="466" y1="448" x2="466" y2="461"/><circle cx="466" cy="448" r="1"/><circle cx="466" cy="461" r="1"/>
<line x1="427" y1="469" x2="439" y2="477"/><circle cx="427" cy="469" r="1"/><circle cx="439" cy="477" r="1"/>
<line x1="576" y1="385" x2="576" y2="399"/><circle cx="576" cy="385" r="1"/><circle cx="576" cy="399" r="1"/>
<line x1="534" y1="408" x2="546" y2="418"/><circle cx="534" cy="408" r="1"/><circle cx="546" cy="418" r="1"/>
<line x1="606" y1="408" x2="618" y2="418"/><circle cx="606" cy="408" r="1"/><circle cx="618" cy="418" r="1"/>
<line x1="570" y1="438" x2="582" y2="431"/><circle cx="570" cy="438" r="1"/><circle cx="582" cy="431" r="1"/>
<line x1="540" y1="448" x2="540" y2="462"/><circle cx="540" cy="448" r="1"/><circle cx="540" cy="462" r="1"/>
<line x1="612" y1="448" x2="612" y2="462"/><circle cx="612" cy="448" r="1"/><circle cx="612" cy="462" r="1"/>
<line x1="570" y1="470" x2="582" y2="479"/><circle cx="570" cy="470" r="1"/><circle cx="582" cy="479" r="1"/>
</g>
<!-- blue arrows -->
<g fill="#1f3f8f">
<polygon points="497,406 504,406 504,403 511,408 504,413 504,410 497,410"/>
<polygon points="497,434 504,434 504,431 511,436 504,441 504,438 497,438"/>
<polygon points="497,462 504,462 504,459 511,464 504,469 504,466 497,466"/>
</g>
<text x="601" y="378" font-size="5.6" fill="#333">Electrolyte-filled</text>
<text x="603" y="386" font-size="5.6" fill="#333">fractures</text>
<line x1="603" y1="388" x2="597" y2="400" stroke="#333" stroke-width="0.5"/>
<!-- watermark -->
<text x="527" y="472" font-family="Liberation Sans, Noto Sans CJK SC, sans-serif" font-size="27" fill="#9a9a9a" opacity="0.33">嘉峪检测网</text>
<text x="530" y="495" font-family="Liberation Sans, sans-serif" font-size="17" font-style="italic" font-weight="bold" fill="#9a9a9a" opacity="0.33">AnyTesting.com</text>
</svg>
</body></html>
